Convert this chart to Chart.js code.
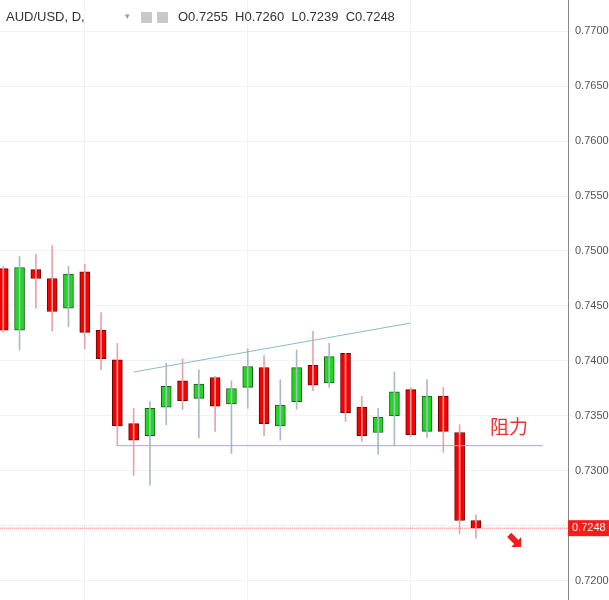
<!DOCTYPE html>
<html>
<head>
<meta charset="utf-8">
<script src="https://cdn.jsdelivr.net/npm/chart.js@4/dist/chart.umd.min.js"></script>
<style>
  body { margin: 0; background: #fff; }
  #wrap { width: 609px; height: 600px; }
</style>
</head>
<body>
<div id="wrap"><canvas id="chart"></canvas></div>
<script>
// daily AUD/USD candles
let opens  = [0.7484, 0.7428, 0.7483, 0.7475, 0.7448, 0.7481, 0.7428, 0.7401, 0.7343, 0.7332, 0.7358, 0.7382, 0.7366, 0.7385, 0.7361, 0.7376, 0.7394, 0.7341, 0.7363, 0.7396, 0.7380, 0.7407, 0.7358, 0.7335, 0.7350, 0.7374, 0.7336, 0.7368, 0.7335, 0.7255];
let highs  = [0.7486, 0.7495, 0.7497, 0.7505, 0.7486, 0.7488, 0.7444, 0.7416, 0.7357, 0.7363, 0.7398, 0.7402, 0.7392, 0.7386, 0.7382, 0.7411, 0.7405, 0.7383, 0.7410, 0.7427, 0.7416, 0.7407, 0.7368, 0.7357, 0.7390, 0.7376, 0.7383, 0.7376, 0.7342, 0.7260];
let lows   = [0.7426, 0.7410, 0.7448, 0.7427, 0.7431, 0.7411, 0.7392, 0.7323, 0.7296, 0.7287, 0.7342, 0.7356, 0.7330, 0.7336, 0.7316, 0.7357, 0.7332, 0.7328, 0.7356, 0.7373, 0.7376, 0.7345, 0.7327, 0.7315, 0.7323, 0.7331, 0.7330, 0.7317, 0.7243, 0.7239];
let closes = [0.7428, 0.7485, 0.7475, 0.7445, 0.7479, 0.7426, 0.7402, 0.7341, 0.7328, 0.7357, 0.7377, 0.7364, 0.7379, 0.7359, 0.7375, 0.7395, 0.7343, 0.7360, 0.7394, 0.7378, 0.7404, 0.7353, 0.7332, 0.7349, 0.7372, 0.7333, 0.7368, 0.7336, 0.7255, 0.7248];

let priceTicks = [0.7200, 0.7250, 0.7300, 0.7350, 0.7400, 0.7450, 0.7500, 0.7550, 0.7600, 0.7650, 0.7700];
let upperTrend = [{x: 8, y: 0.7390}, {x: 25, y: 0.74345}];
let lowerTrend = [{x: 7, y: 0.7323}, {x: 33.1, y: 0.7323}];
let lastPrice = 0.7248;

let bodies = [], wicks = [], bodyColors = [], wickColors = [], borderColors = [];
for (let i = 0; i < opens.length; i++) {
    let up = closes[i] >= opens[i];
    bodies.push({x: i, y: [opens[i], closes[i]]});
    wicks.push({x: i, y: [lows[i], highs[i]]});
    bodyColors.push(up ? "#1fd81f" : "#f70000");
    borderColors.push(up ? "#1e5a1e" : "#6a0000");
    wickColors.push(up ? "#a8bcc6" : "#eba3a6");
}

let overlay = {
    id: "overlay",
    afterDatasetsDraw(chart) {
        let ctx = chart.ctx, y = chart.scales.y, x = chart.scales.x;
        ctx.save();
        ctx.font = "13px 'Liberation Sans', Arial";
        ctx.textBaseline = "middle";
        ctx.fillStyle = "#333";
        ctx.fillText("AUD/USD, D,", 6, 17);
        ctx.fillStyle = "#999";
        ctx.font = "9px 'DejaVu Sans'";
        ctx.fillText("▾", 125, 17);
        ctx.fillStyle = "#c8c8c8";
        ctx.fillRect(141, 12, 11, 11);
        ctx.fillRect(157, 12, 11, 11);
        ctx.font = "13px 'Liberation Sans', Arial";
        ctx.fillStyle = "#333";
        ctx.fillText("O0.7255  H0.7260  L0.7239  C0.7248", 178, 17);
        // price label
        let py = y.getPixelForValue(lastPrice);
        ctx.fillStyle = "#ff1a1a";
        ctx.fillRect(568, py - 8, 41, 16);
        ctx.fillStyle = "#fff";
        ctx.font = "11px 'Liberation Sans', Arial";
        ctx.fillText(lastPrice.toFixed(4), 572, py);
        // resistance label
        ctx.fillStyle = "#f03030";
        ctx.font = "19px 'Noto Sans CJK SC'";
        ctx.fillText("阻力", 490, y.getPixelForValue(0.7340));
        // arrow
        let ax = x.getPixelForValue(31.3), ay = y.getPixelForValue(0.7238);
        ctx.translate(ax, ay);
        ctx.rotate(Math.PI / 4);
        ctx.fillStyle = "#e82020";
        ctx.beginPath();
        ctx.moveTo(-6, -3); ctx.lineTo(4, -3); ctx.lineTo(4, -7); ctx.lineTo(11, 0);
        ctx.lineTo(4, 7); ctx.lineTo(4, 3); ctx.lineTo(-6, 3);
        ctx.closePath(); ctx.fill();
        ctx.restore();
    }
};

new Chart(document.getElementById("chart"), {
    type: "bar",
    data: {
        datasets: [
            {type: "line", data: upperTrend, borderColor: "#86bccb", borderWidth: 1, pointRadius: 0},
            {type: "line", data: lowerTrend, borderColor: "#86bccb", borderWidth: 1, pointRadius: 0},
            {type: "line", data: [{x: -0.2, y: lastPrice}, {x: 34.65, y: lastPrice}], borderColor: "#f28080", borderWidth: 1, borderDash: [1, 1], pointRadius: 0},
            {data: wicks, backgroundColor: wickColors, barThickness: 1, grouped: false},
            {data: bodies, backgroundColor: bodyColors, borderColor: borderColors, borderWidth: 1, borderSkipped: false, barThickness: 10, grouped: false}
        ]
    },
    options: {
        responsive: true,
        maintainAspectRatio: false,
        animation: false,
        layout: {padding: 0},
        plugins: {legend: {display: false}, tooltip: {enabled: false}},
        scales: {
            x: {
                type: "linear", min: -0.2, max: 34.65, offset: false, bounds: "ticks",
                afterDataLimits: s => { s.min = -0.2; s.max = 34.65; },
                afterBuildTicks: s => { s.ticks = [5, 15, 25].map(v => ({value: v})); },
                afterFit: s => { s.height = 0; s.paddingLeft = 0; s.paddingRight = 0; },
                ticks: {display: false},
                grid: {color: "#f0f3f6", drawTicks: false, offset: false},
                border: {display: false}
            },
            y: {
                position: "right", min: 0.71827, max: 0.77282,
                afterBuildTicks: s => { s.ticks = priceTicks.map(v => ({value: v})); },
                afterFit: s => { s.width = 41; s.paddingTop = 0; s.paddingBottom = 0; },
                ticks: {
                    callback: v => v.toFixed(4), color: "#555",
                    font: {size: 11, family: "'Liberation Sans', Arial"}, padding: 3
                },
                grid: {color: "#f0f3f6", drawTicks: true, tickLength: 4},
                border: {color: "#888"}
            }
        }
    },
    plugins: [overlay]
});
</script>
</body>
</html>
